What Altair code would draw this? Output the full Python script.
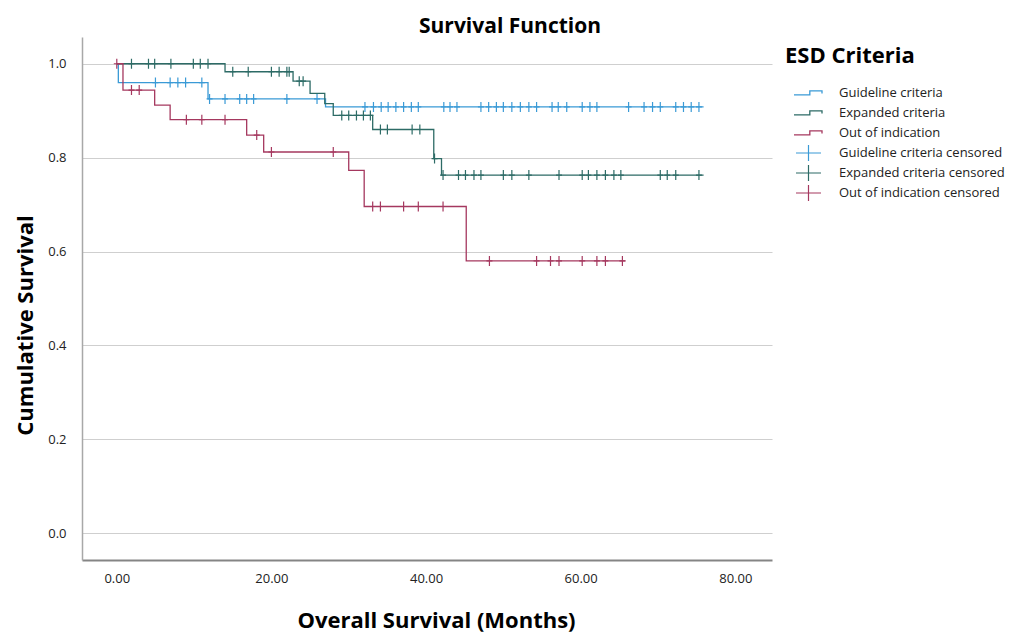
import altair as alt
import pandas as pd

GROUPS = ["Guideline criteria", "Expanded criteria", "Out of indication"]
CENS_GROUPS = [g + " censored" for g in GROUPS]
COLORS = ["#3a9ad6", "#2d6b66", "#a5385f"]

# Kaplan-Meier steps (time in months, cumulative survival)
g_t = [0.0, 0.2, 11.8, 27.0, 75.9]
g_s = [1.0, 0.960, 0.925, 0.908, 0.908]
g_c = [5.0, 6.9, 7.9, 8.9, 11.0, 12.0, 14.0, 15.9, 16.8, 17.7, 22.0, 25.9,
       32.1, 33.2, 34.2, 35.1, 36.1, 37.1, 38.1, 39.0, 42.3, 43.1, 44.0, 47.1,
       48.1, 49.1, 50.0, 51.1, 52.2, 53.3, 54.3, 56.3, 57.1, 58.2, 60.2, 61.2,
       62.1, 66.2, 68.2, 69.3, 70.3, 72.3, 73.3, 74.3, 75.3]

e_t = [0.0, 14.0, 22.8, 25.0, 26.9, 28.0, 33.1, 41.0, 42.0, 75.9]
e_s = [1.0, 0.983, 0.963, 0.937, 0.915, 0.890, 0.860, 0.798, 0.763, 0.763]
e_c = [1.9, 4.1, 4.9, 7.0, 9.9, 10.8, 11.8, 15.0, 17.0, 20.0, 21.0, 22.0, 22.3,
       23.6, 24.1, 29.1, 30.0, 31.0, 31.9, 32.8, 34.1, 35.0, 38.2, 39.2, 41.1,
       42.2, 44.2, 45.1, 46.2, 47.1, 50.0, 51.1, 53.3, 57.2, 60.2, 61.0, 62.1,
       63.2, 64.3, 65.2, 70.3, 71.2, 72.3, 75.3]

o_t = [0.0, 0.8, 4.9, 6.9, 16.8, 19.0, 30.0, 32.0, 45.2, 65.8]
o_s = [1.0, 0.944, 0.912, 0.881, 0.848, 0.812, 0.773, 0.696, 0.580, 0.580]
o_c = [0.0, 1.9, 2.9, 9.0, 11.0, 14.0, 18.1, 20.0, 28.0, 33.1, 34.1, 37.1,
       39.0, 42.2, 48.2, 54.3, 56.1, 57.2, 60.2, 62.1, 63.2, 65.4]

X_TICKS = [0, 20, 40, 60, 80]
Y_TICKS = [0.0, 0.2, 0.4, 0.6, 0.8, 1.0]


def level_at(times, surv, c):
    val = surv[0]
    for t, s in zip(times, surv):
        if t <= c:
            val = s
    return val


line_rows, pt_rows = [], []
for name, cname, ts, ss, cs in zip(GROUPS, CENS_GROUPS, [g_t, e_t, o_t],
                                   [g_s, e_s, o_s], [g_c, e_c, o_c]):
    for t, s in zip(ts, ss):
        line_rows.append({"t": t, "s": s, "group": name})
    for c in cs:
        pt_rows.append({"t": c, "s": level_at(ts, ss, c), "cgroup": cname})

line_df = pd.DataFrame(line_rows)
pt_df = pd.DataFrame(pt_rows)

FONT = "Open Sans"

x_enc = alt.X(
    "t:Q",
    scale=alt.Scale(domain=[-4.5, 84.75], nice=False, zero=False),
    axis=alt.Axis(values=X_TICKS, format=".2f", ticks=False, grid=False,
                  domainColor="#858585", domainWidth=2, labelPadding=12,
                  labelFontSize=13, labelFont=FONT, labelColor="#222",
                  title="Overall Survival (Months)", titleFont=FONT,
                  titleFontSize=22, titleFontWeight="bold", titleColor="black",
                  titleX=354, titleY=60, titleBaseline="middle",
                  titleAlign="center"),
)
y_enc = alt.Y(
    "s:Q",
    scale=alt.Scale(domain=[-0.057, 1.057], nice=False, zero=False),
    axis=alt.Axis(values=Y_TICKS, format=".1f", ticks=False, grid=True,
                  gridColor="#cfcfcf", gridWidth=1.2,
                  domainColor="#a8a8a8", domainWidth=1.5, labelPadding=16,
                  labelFontSize=13, labelFont=FONT, labelColor="#222",
                  title="Cumulative Survival", titleFont=FONT,
                  titleFontSize=22, titleFontWeight="bold", titleColor="black",
                  titleX=-57, titleY=288, titleAngle=270,
                  titleBaseline="middle", titleAlign="center"),
)

STEP_PATH = "M-1,0.14L0.13,0.14L0.13,-0.15L1,-0.15L1,0.04"
PLUS_LEG = "M-1,0L1,0M0,-0.64L0,0.64"
PLUS_MARK = "M-0.6,0L0.6,0M0,-1L0,1"

lines = alt.Chart(line_df).mark_line(interpolate="step-after", strokeWidth=1.3).encode(
    x=x_enc,
    y=y_enc,
    color=alt.Color(
        "group:N",
        scale=alt.Scale(domain=GROUPS, range=COLORS),
        legend=alt.Legend(
            title="ESD Criteria", orient="none", legendX=703, legendY=9,
            symbolType=STEP_PATH, symbolSize=784, symbolStrokeWidth=1.3,
            symbolFillColor="transparent", symbolOffset=8, labelOffset=16,
            clipHeight=18, rowPadding=2, padding=0,
            titleFont=FONT, titleFontSize=22, titleFontWeight="bold",
            titleColor="black", titlePadding=16,
            labelFont=FONT, labelFontSize=13, labelColor="#222", labelLimit=220,
        ),
    ),
)

points = alt.Chart(pt_df).mark_point(shape=PLUS_MARK, size=100, filled=False,
                                     strokeWidth=1.2, opacity=1).encode(
    x=x_enc,
    y=y_enc,
    color=alt.Color(
        "cgroup:N",
        scale=alt.Scale(domain=CENS_GROUPS, range=COLORS),
        legend=alt.Legend(
            title=None, orient="none", legendX=703, legendY=107,
            symbolType=PLUS_LEG, symbolSize=625, symbolStrokeWidth=1.2,
            symbolOffset=10, labelOffset=17, clipHeight=18, rowPadding=2,
            padding=0, labelFont=FONT, labelFontSize=13, labelColor="#222",
            labelLimit=220,
        ),
    ),
)

chart = alt.layer(lines, points).resolve_scale(color="independent").properties(
    width=690,
    height=523,
    padding={"left": 74, "top": 29, "right": 241, "bottom": 74},
    autosize=alt.AutoSizeParams(type="none"),
    background="white",
    title=alt.Title("Survival Function", font=FONT, fontSize=21,
                    fontWeight="bold", color="black", anchor="middle",
                    frame="group", dx=83, dy=22, baseline="alphabetic", offset=5),
).configure_view(stroke=None)

chart.save("out.html", embed_options={"renderer": "svg", "actions": False})
